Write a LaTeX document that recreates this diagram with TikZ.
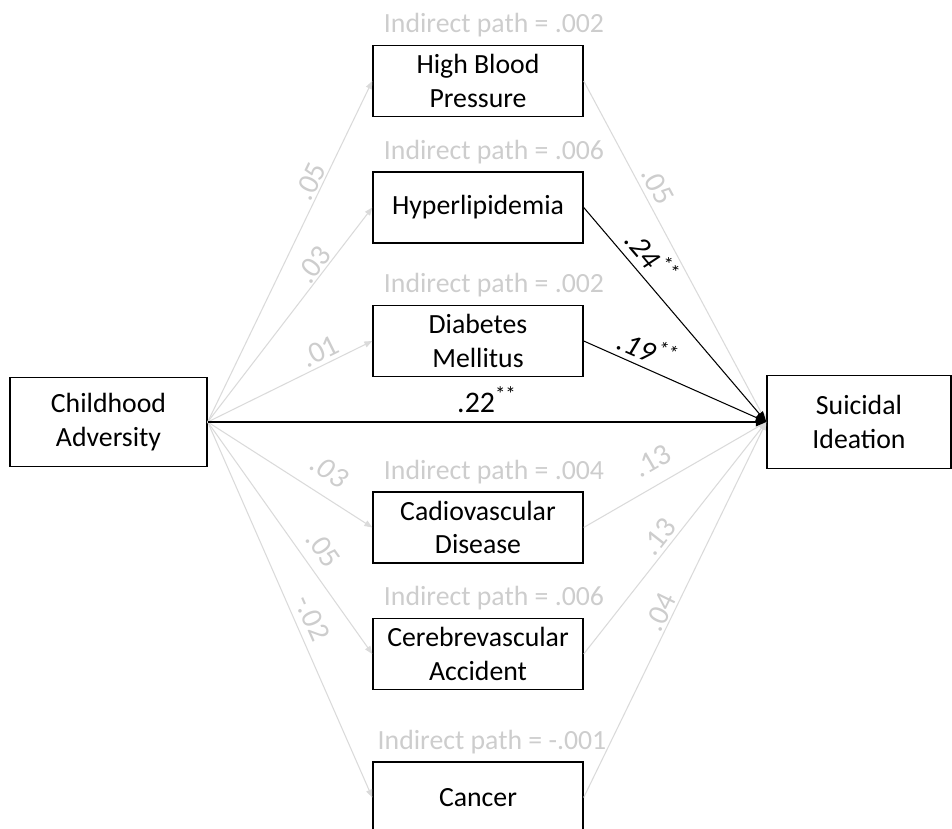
\documentclass[tikz,border=0pt]{standalone}
\usepackage{fontspec}
\setmainfont{Carlito}
\usepackage{xcolor}
\usepackage{tikz}
\usetikzlibrary{positioning, arrows.meta}
\definecolor{faint}{RGB}{218,218,218}
\definecolor{faintText}{RGB}{205,205,205}

\begin{document}
\begin{tikzpicture}[
    font=\fontsize{15.8}{19}\selectfont,
    box/.style={
        draw, line width=0.8pt, align=center,
        minimum width=4.2cm, minimum height=1.42cm
    },
    indirect/.style={text=faintText, inner sep=0pt},
    weak/.style={draw=faint, line width=0.6pt, -{Triangle[length=4.5pt, width=3.5pt]}},
    strong/.style={draw=black, line width=0.6pt, -{Triangle[length=6pt, width=5pt]}},
    coef/.style={sloped, inner sep=0pt, text=faintText, font=\fontsize{17}{20}\selectfont},
    sig/.style={sloped, inner sep=0pt, text=black, font=\fontsize{17}{20}\selectfont}
]
\useasboundingbox (0,0) rectangle (19.04,16.58);

\node[box, minimum width=3.94cm, minimum height=1.78cm] (adv) at (2.17,8.14) {Childhood\\Adversity};
\node[box, minimum width=3.68cm, minimum height=1.86cm] (si)  at (17.18,8.14) {Suicidal\\Ideation};

\node[box] (hbp) at (9.56,14.96) {High Blood\\Pressure};
\node[box] (hyp) at (9.56,12.43) {Hyperlipidemia};
\node[box] (dm)  at (9.56,9.76)  {Diabetes\\Mellitus};
\node[box] (cvd) at (9.56,6.03)  {Cadiovascular\\Disease};
\node[box] (cva) at (9.56,3.50)  {Cerebrevascular\\Accident};
\node[box] (can) at (9.56,0.63)  {Cancer};

\node[indirect, above=4pt of hbp, xshift=0.32cm] (ihbp) {Indirect path = .002};
\node[indirect, above=4pt of hyp, xshift=0.32cm] (ihyp) {Indirect path = .006};
\node[indirect, above=4pt of dm,  xshift=0.32cm] (idm)  {Indirect path = .002};
\node[indirect, above=4pt of cvd, xshift=0.32cm] (icvd) {Indirect path = .004};
\node[indirect, above=4pt of cva, xshift=0.32cm] (icva) {Indirect path = .006};
\node[indirect, above=4pt of can, xshift=0.28cm] (ican) {Indirect path = -.001};

% a paths
\draw[weak] (adv.east) -- node[coef, pos=0.69, above=1pt]   (a1) {.05}  (hbp.west);
\draw[weak] (adv.east) -- node[coef, pos=0.70, above=0.5pt] (a2) {.03}  (hyp.west);
\draw[weak] (adv.east) -- node[coef, pos=0.72, above=2pt]   (a3) {.01}  (dm.west);
\draw[weak] (adv.east) -- node[coef, pos=0.66, above=8pt]   (a4) {\itshape .03} (cvd.west);
\draw[weak] (adv.east) -- node[coef, pos=0.60, above=6pt]   (a5) {.05}  (cva.west);
\draw[weak] (adv.east) -- node[coef, pos=0.54, above=4pt]   (a6) {-.02} (can.west);

% b paths
\draw[weak] (hbp.east) -- node[coef, pos=0.33, above=3pt]   (b1) {.05} (si.west);
\draw[weak] (cvd.east) -- node[coef, pos=0.44, above=7.5pt] (b4) {.13} (si.west);
\draw[weak] (cva.east) -- node[coef, pos=0.47, above=2pt]   (b5) {.13} (si.west);
\draw[weak] (can.east) -- node[coef, pos=0.48, above=1pt]   (b6) {.04} (si.west);
\draw[strong] (hyp.east) -- node[sig, pos=0.29, above=4pt] (b2) {\itshape .24\textsuperscript{**}} (si.west);
\draw[strong] (dm.east)  -- node[sig, pos=0.31, above=3pt] (b3) {\itshape .19\textsuperscript{**}} (si.west);

% direct path
\draw[strong] (adv.east) -- node[sig, pos=0.5, above=5pt] (c) {.22\textsuperscript{**}} (si.west);
\end{tikzpicture}
\end{document}
